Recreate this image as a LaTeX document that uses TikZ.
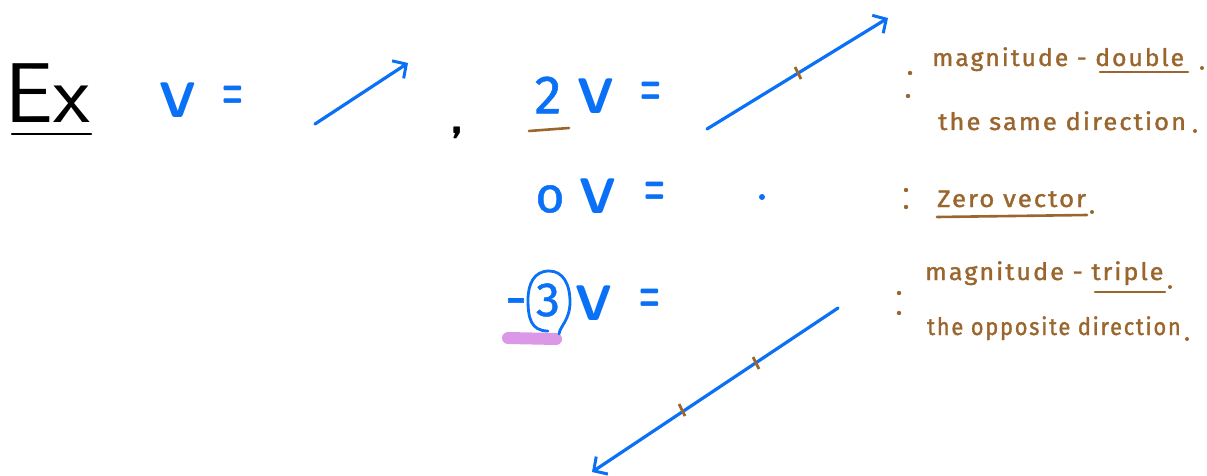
\documentclass[tikz,border=0pt]{standalone}
\usepackage{fontspec}
\usetikzlibrary{arrows.meta}
\newfontfamily\notefont[LetterSpace=8,FakeBold=1.5]{Fira Sans}
\newfontfamily\mathhand[FakeBold=1]{Fira Sans}
\definecolor{penblue}{RGB}{10,112,245}
\definecolor{penbrown}{RGB}{154,102,46}
\definecolor{hlpurple}{RGB}{218,152,230}
\tikzset{
  vec/.style={penblue, line width=3.2pt, line cap=round, -{Straight Barb[length=10pt,width=21pt,line width=3pt]}},
  tick/.style={penbrown, line width=2.8pt},
  ul/.style={penbrown, line width=2.6pt, line cap=round},
  bigv/.style={penblue, inner sep=0pt, font=\fontsize{50}{50}\selectfont\sffamily\bfseries},
  eqs/.style={penblue, inner sep=0pt, font=\fontsize{44}{44}\selectfont\sffamily\bfseries},
  coef/.style={penblue, inner sep=0pt, font=\fontsize{54}{54}\selectfont\mathhand},
  note/.style={penbrown, anchor=base west, inner sep=0pt, font=\fontsize{24}{28}\selectfont\notefont},
  dotb/.style={penbrown, fill=penbrown},
}
\newcommand{\eqsign}{\scalebox{0.55}[1.25]{=}}
\begin{document}
\begin{tikzpicture}[x=1pt,y=-1pt]
\useasboundingbox (0,0) rectangle (1207,476);
% Ex
\node[inner sep=0pt, font=\fontsize{85}{85}\selectfont\sffamily] (ex) at (48,93) {Ex};
\coordinate (exa) at (12,134);
\coordinate (exb) at (91,134);
\draw[black, line width=2.6pt, line cap=round] (exa) -- (exb);
% V =  vector
\node[bigv] (v1) at (178,100) {V};
\node[eqs] (e1) at (233,97) {\eqsign};
\coordinate (a1s) at (315,124);
\coordinate (a1e) at (408,63);
\draw[vec] (a1s) -- (a1e);
\node[inner sep=0pt, font=\fontsize{50}{50}\selectfont\sffamily\bfseries] (comma) at (457,133) {,};
% 2V
\node[coef] (c2) at (548,95) {2};
\coordinate (u2a) at (529,131);
\coordinate (u2b) at (569,128);
\draw[ul] (u2a) -- (u2b);
\node[bigv] (v2) at (596,96) {V};
\node[eqs] (e2) at (651,93) {\eqsign};
\coordinate (a2s) at (707,129);
\coordinate (a2e) at (888,18);
\draw[vec] (a2s) -- (a2e);
\coordinate (t2) at (798,73);
\draw[tick] ([shift={(-3,-6)}]t2) -- ([shift={(3,6)}]t2);
% 0V
\node[penblue, inner sep=0pt, font=\fontsize{50}{50}\selectfont\mathhand] (c0) at (550,199) {o};
\node[bigv] (v0) at (598,196) {V};
\node[eqs] (e0) at (655,193) {\eqsign};
\node[circle, fill=penblue, inner sep=0pt, minimum size=6pt] (zero) at (762,197) {};
% -3V
\node[coef] (minus) at (516,308) {-};
\node[coef, font=\fontsize{48}{48}\selectfont\mathhand] (c3) at (548,300) {3};
\coordinate (hla) at (508,338);
\coordinate (hlb) at (556,339);
\draw[hlpurple, line width=12pt, line cap=round] (hla) -- (hlb);
\draw[penblue, line width=2.8pt, line cap=round]
  (559,334) .. controls (560,326) and (570,320) .. (570,302)
  .. controls (570,284) and (563,271) .. (549,271)
  .. controls (534,271) and (528,284) .. (528,300)
  .. controls (528,318) and (531,331) .. (548,331);
\node[bigv] (v3) at (594,303) {V};
\node[eqs] (e3) at (650,300) {\eqsign};
\coordinate (a3s) at (838,308);
\coordinate (a3e) at (592,472);
\draw[vec] (a3s) -- (a3e);
\coordinate (t3a) at (756,363);
\coordinate (t3b) at (682,410);
\draw[tick] ([shift={(-3,-6)}]t3a) -- ([shift={(3,6)}]t3a);
\draw[tick] ([shift={(-3,-6)}]t3b) -- ([shift={(3,6)}]t3b);
% notes
\fill[dotb] (910,73) circle (2.2pt);
\fill[dotb] (908,96) circle (2.2pt);
\node[note] (n1) at (932,66) {\scalebox{1.03}[1]{magnitude - double}};
\fill[dotb] (1202,68) circle (2pt);
\draw[ul] (1100,72) -- (1188,72);
\node[note] (n2) at (938,130) {\scalebox{1.065}[1]{the same direction}};
\fill[dotb] (1195,131) circle (2pt);
\fill[dotb] (906,190) circle (2.2pt);
\fill[dotb] (906,207) circle (2.2pt);
\node[note] (n3) at (937,207) {\scalebox{1.07}[1]{Zero vector}};
\draw[ul] (937,217) -- (1087,215);
\fill[dotb] (1092,212) circle (2pt);
\fill[dotb] (899,293) circle (2.2pt);
\fill[dotb] (899,313) circle (2.2pt);
\node[note] (n4) at (925,280) {\scalebox{1.05}[1]{magnitude - triple}};
\draw[ul] (1095,292) -- (1165,292);
\fill[dotb] (1170,287) circle (2pt);
\node[note] (n5) at (927,335) {\scalebox{0.91}[1]{the opposite direction}};
\fill[dotb] (1187,339) circle (2pt);
\end{tikzpicture}
\end{document}
